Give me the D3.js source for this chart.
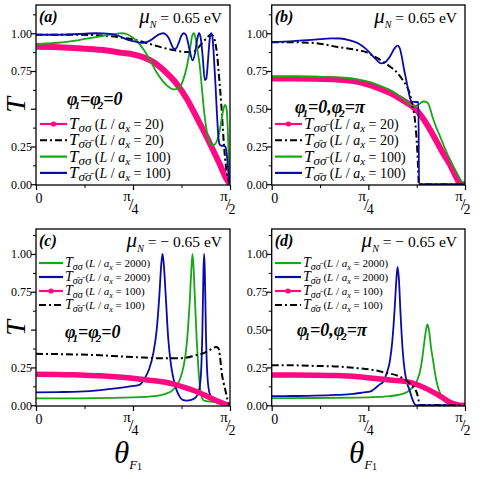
<!DOCTYPE html>
<html>
<head>
<meta charset="utf-8">
<script src="https://cdn.jsdelivr.net/npm/d3@7"></script>
<style>
  body { margin: 0; background: #fff; }
  svg { display: block; }
</style>
</head>
<body>
<div id="chart"></div>
<script>
// x values in degrees (0 .. 90 = 0 .. pi/2), y = transmission T
var xMajor = [0, 45, 90];
var xMinor = [22.5, 67.5];
var yMajor = [0, 0.25, 0.5, 0.75, 1];
var yMinor = [0.125, 0.375, 0.625, 0.875, 1.125];

// panel (a)  mu_N = 0.65 eV, phi1 = phi2 = 0
var aPink = [[0,0.91],[10,0.908],[20,0.90],[30,0.89],[40,0.87],[45,0.86],[50,0.84],[55,0.805],[60,0.745],[65,0.67],[70,0.565],[75,0.43],[80,0.29],[83,0.2],[85,0.14],[88,0.045],[90,0]];
var aBlack = [[0,0.99],[10,0.99],[20,0.99],[30,0.985],[35,0.98],[40,0.97],[45,0.96],[50,0.94],[55,0.92],[60,0.90],[65,0.885],[70,0.875],[73,0.878],[75,0.9],[77,0.935],[79,0.965],[81,0.99],[82,0.985],[83,0.95],[84,0.86],[85,0.70],[86,0.52],[87,0.30],[88,0.13],[89,0.04],[90,0]];
var aGreen = [[0,0.93],[5,0.932],[10,0.937],[15,0.945],[20,0.955],[25,0.967],[30,0.98],[35,0.993],[38,0.998],[40,1.0],[42,0.995],[45,0.97],[48,0.93],[50,0.89],[53,0.82],[56,0.74],[59,0.68],[62,0.64],[64,0.628],[66,0.635],[68,0.68],[70,0.78],[71.5,0.9],[72.5,0.985],[73.2,1.0],[74,0.97],[75,0.88],[76,0.78],[77,0.63],[78,0.48],[79,0.37],[80,0.3],[81,0.27],[82,0.26],[83,0.265],[84,0.29],[85,0.34],[86,0.42],[87,0.5],[87.8,0.525],[88.5,0.49],[89,0.35],[89.5,0.15],[90,0]];
var aBlue = [[0,0.99],[10,0.99],[20,0.995],[28,1.0],[33,0.998],[38,0.985],[42,0.96],[45,0.948],[48,0.938],[50,0.936],[52,0.945],[54,0.962],[56,0.983],[58,0.997],[59,1.0],[60,0.995],[61.5,0.97],[63,0.92],[64,0.895],[65,0.9],[66.3,0.94],[67.5,0.985],[68.5,1.0],[69.5,0.99],[70.5,0.94],[71.5,0.87],[72.7,0.82],[73.8,0.87],[74.8,0.96],[75.6,1.0],[76.4,0.97],[77.3,0.85],[78.3,0.69],[79,0.7],[79.8,0.82],[80.5,0.95],[81.2,1.0],[81.8,0.98],[82.5,0.85],[83.3,0.65],[84,0.45],[84.7,0.3],[85.3,0.26],[86,0.255],[87,0.255],[87.8,0.25],[88.5,0.2],[89,0.12],[89.5,0.04],[90,0]];

// panel (b)  mu_N = 0.65 eV, phi1 = 0, phi2 = pi
var bPink = [[0,0.70],[10,0.70],[20,0.698],[30,0.693],[35,0.688],[40,0.678],[45,0.66],[50,0.635],[55,0.605],[60,0.565],[65,0.52],[67.5,0.49],[70,0.445],[75,0.33],[80,0.2],[83,0.13],[86,0.045],[88,0],[90,0]];
var bBlack = [[0,0.94],[10,0.94],[20,0.935],[25,0.925],[30,0.91],[35,0.90],[40,0.888],[44,0.875],[48,0.845],[52,0.81],[55,0.78],[58,0.745],[61,0.69],[63,0.645],[64.5,0.59],[65.5,0.52],[66.5,0.45],[67.3,0.33],[67.8,0.22],[68.2,0.1],[68.5,0],[90,0]];
var bGreen = [[0,0.715],[10,0.715],[20,0.713],[30,0.708],[35,0.705],[40,0.695],[45,0.68],[50,0.655],[55,0.625],[58,0.6],[61,0.57],[63,0.545],[65,0.525],[66.5,0.518],[68,0.525],[69.5,0.54],[70.8,0.548],[72,0.545],[73,0.53],[74,0.49],[75,0.44],[76.5,0.38],[78,0.33],[80,0.26],[81.5,0.21],[83,0.165],[84.5,0.12],[86,0.08],[87.5,0.04],[89,0.008],[90,0]];
var bBlue = [[0,0.942],[10,0.948],[20,0.958],[28,0.966],[32,0.965],[36,0.955],[40,0.935],[44,0.895],[47,0.85],[49,0.82],[51,0.80],[53,0.81],[55,0.845],[57,0.895],[58.5,0.918],[59.5,0.905],[60.5,0.85],[61.5,0.77],[62.5,0.70],[63.5,0.63],[64.5,0.565],[65.2,0.547],[66.5,0.545],[68.3,0.544],[68.6,0],[90,0]];

// panel (c)  mu_N = -0.65 eV, phi1 = phi2 = 0
var cGreen = [[0,0.045],[20,0.046],[40,0.05],[50,0.055],[55,0.06],[60,0.075],[63,0.095],[65,0.125],[67,0.18],[68.5,0.26],[69.5,0.35],[70.5,0.5],[71.3,0.68],[72,0.88],[72.6,1.0],[73.2,0.88],[73.9,0.64],[74.6,0.42],[75.3,0.25],[76,0.13],[76.8,0.06],[78,0.03],[80,0.025],[84,0.02],[88,0.01],[90,0]];
var cBlue = [[0,0.085],[10,0.087],[20,0.09],[30,0.1],[38,0.113],[43,0.123],[48,0.135],[50.5,0.18],[52.5,0.24],[54.5,0.35],[56,0.5],[57.2,0.72],[58.1,0.93],[58.7,1.0],[59.3,0.93],[60.2,0.72],[61.3,0.45],[62.5,0.28],[63.7,0.18],[65,0.11],[66.5,0.06],[68,0.035],[70,0.03],[72,0.035],[74,0.05],[75.5,0.09],[76.5,0.2],[77.2,0.5],[77.7,0.9],[78,1.0],[78.3,0.9],[78.8,0.5],[79.5,0.2],[80.5,0.08],[82,0.04],[85,0.02],[88,0.008],[90,0]];
var cPink = [[0,0.205],[10,0.204],[20,0.2],[30,0.195],[40,0.185],[45,0.178],[50,0.17],[55,0.162],[60,0.152],[65,0.135],[70,0.113],[75,0.088],[80,0.055],[83,0.035],[86,0.017],[88,0.006],[90,0]];
var cBlack = [[0,0.34],[10,0.338],[20,0.335],[30,0.33],[40,0.322],[50,0.315],[60,0.31],[65,0.31],[70,0.315],[74,0.33],[77,0.34],[80,0.36],[82,0.377],[83.5,0.385],[84.5,0.38],[85.3,0.33],[86.1,0.22],[87,0.15],[88,0.09],[88.8,0.04],[89.5,0.01],[90,0]];

// panel (d)  mu_N = -0.65 eV, phi1 = 0, phi2 = pi
var dGreen = [[0,0.047],[20,0.048],[40,0.05],[50,0.055],[55,0.06],[60,0.072],[63,0.088],[65,0.11],[66.7,0.134],[68,0.175],[69,0.22],[70,0.3],[71,0.41],[72,0.51],[72.5,0.535],[73.2,0.5],[74.2,0.38],[75.2,0.29],[76.3,0.19],[77.4,0.12],[78.4,0.08],[79.5,0.045],[81,0.02],[83,0.005],[84.5,0],[90,0]];
var dBlue = [[0,0.06],[10,0.061],[20,0.063],[30,0.068],[38,0.075],[43,0.085],[45.7,0.09],[48,0.11],[50,0.135],[51.9,0.156],[53.5,0.21],[55,0.29],[56.2,0.43],[57.3,0.65],[58,0.82],[58.6,0.915],[59.2,0.84],[60,0.6],[61,0.36],[62,0.22],[63.2,0.14],[64.4,0.09],[65.5,0.04],[66.7,0.005],[67.5,0],[90,0]];
var dPink = [[0,0.2],[10,0.2],[20,0.199],[30,0.196],[40,0.188],[47,0.178],[55,0.167],[62.8,0.156],[67,0.14],[72,0.11],[76,0.08],[80,0.046],[83,0.02],[86,0.005],[88,0],[90,0]];
var dBlack = [[0,0.265],[10,0.264],[20,0.26],[31.8,0.255],[40,0.245],[47.3,0.233],[53,0.215],[59.5,0.19],[62.5,0.165],[65,0.134],[66.5,0.11],[67.6,0.08],[68.3,0.04],[68.8,0],[90,0]];

var PINK = "#ff0a80", GREEN = "#14a814", BLUE = "#0a0aa8", BLACK = "#000";
var SS = "σσ", BB = "σ\u0304σ\u0304", SB = "σσ\u0304", BS = "σ\u0304σ";

var W = 485, H = 479;
var svg = d3.select("#chart").append("svg").attr("width", W).attr("height", H);

var line = function(x, y) {
  return d3.line().x(function(d) { return x(d[0]); }).y(function(d) { return y(d[1]); }).curve(d3.curveMonotoneX);
};

function drawPanel(p, idx) {
  var x = d3.scaleLinear().domain([0, 90]).range([p.left, p.right]);
  var y = d3.scaleLinear().domain(p.yDom).range([p.bottom, p.top]);
  var g = svg.append("g");

  g.append("clipPath").attr("id", "clip" + idx)
    .append("rect").attr("x", p.left).attr("y", p.top)
    .attr("width", p.right - p.left).attr("height", p.bottom - p.top);

  // curves
  var cg = g.append("g").attr("clip-path", "url(#clip" + idx + ")");
  p.series.forEach(function(s) {
    cg.append("path").datum(s.data)
      .attr("d", line(x, y))
      .attr("fill", "none")
      .attr("stroke", s.color)
      .attr("stroke-width", s.width)
      .attr("stroke-dasharray", s.dash || null)
      .attr("stroke-linejoin", "round");
  });

  // frame
  g.append("rect").attr("x", p.left).attr("y", p.top)
    .attr("width", p.right - p.left).attr("height", p.bottom - p.top)
    .attr("fill", "none").attr("stroke", "#000").attr("stroke-width", 1.3);

  // y axis
  var ya = g.append("g").attr("transform", "translate(" + p.left + ",0)")
    .call(d3.axisLeft(y).tickValues(yMajor).tickSize(5).tickSizeOuter(0)
      .tickFormat(function(d) { return (p.hideHalf && d === 0.5) ? "" : d3.format(".2f")(d); }));
  ya.select(".domain").remove();
  ya.selectAll("line").attr("stroke-width", 1.2);
  ya.selectAll("text").attr("font-size", 12).attr("x", -4);
  var ym = g.append("g").attr("transform", "translate(" + p.left + ",0)")
    .call(d3.axisLeft(y).tickValues(yMinor).tickSize(3).tickFormat(""));
  ym.select(".domain").remove();
  ym.selectAll("line").attr("stroke-width", 1);

  // x axis
  var xa = g.append("g").attr("transform", "translate(0," + p.bottom + ")")
    .call(d3.axisBottom(x).tickValues(xMajor).tickSize(5).tickSizeOuter(0).tickFormat(""));
  xa.select(".domain").remove();
  xa.selectAll("line").attr("stroke-width", 1.2);
  var xm = g.append("g").attr("transform", "translate(0," + p.bottom + ")")
    .call(d3.axisBottom(x).tickValues(xMinor).tickSize(3).tickFormat(""));
  xm.select(".domain").remove();
  xm.selectAll("line").attr("stroke-width", 1);

  // x tick labels: 0, pi/4, pi/2
  var b = p.bottom;
  g.append("text").attr("x", x(0) + 3).attr("y", b + 18).attr("text-anchor", "middle")
    .attr("font-size", 14).text("0");
  [[45, "4"], [90, "2"]].forEach(function(t) {
    var cx = x(t[0]);
    g.append("text").attr("x", cx - 6).attr("y", b + 16).attr("text-anchor", "middle")
      .attr("font-size", 15).text("π");
    g.append("text").attr("x", cx - 2).attr("y", b + 25).attr("text-anchor", "middle")
      .attr("font-size", 17).text("/");
    g.append("text").attr("x", cx + 2).attr("y", b + 29).attr("text-anchor", "middle")
      .attr("font-size", 14).text(t[1]);
  });

  // panel letter and mu_N
  g.append("text").attr("x", p.left + 3).attr("y", p.top + 17)
    .attr("font-size", 16).attr("font-weight", "bold").attr("font-style", "italic")
    .text("(" + p.letter + ")");
  var mu = g.append("text").attr("x", p.right - 8).attr("y", p.top + 18).attr("text-anchor", "end");
  mu.append("tspan").attr("font-size", 21).attr("font-style", "italic").text("μ");
  mu.append("tspan").attr("font-size", 10).attr("font-style", "italic").attr("dy", 5).text("N");
  mu.append("tspan").attr("font-size", 15.5).attr("dy", -5).text(p.mu);

  // phi label, subscripts tucked under the phi
  var ph = g.append("text").attr("x", p.phi.x).attr("y", p.phi.y)
    .attr("font-weight", "bold").attr("font-style", "italic").attr("font-size", 18);
  ph.append("tspan").text("φ");
  ph.append("tspan").attr("font-size", 11).attr("dx", -3).attr("dy", 4).text("1");
  ph.append("tspan").attr("dy", -4).text(p.phi.mid);
  ph.append("tspan").attr("font-size", 11).attr("dx", -3).attr("dy", 4).text("2");
  ph.append("tspan").attr("dy", -4).text(p.phi.end);

  // legend
  var L = p.legend;
  p.series.forEach(function(s, i) {
    var cy = L.y + i * L.dy;
    g.append("line").attr("x1", L.x).attr("x2", L.x + L.len).attr("y1", cy).attr("y2", cy)
      .attr("stroke", s.color).attr("stroke-width", s.dash ? 2 : 2.2)
      .attr("stroke-dasharray", s.dash || null);
    if (s.marker) {
      g.append("circle").attr("cx", L.x + L.len / 2).attr("cy", cy).attr("r", 2.6).attr("fill", s.color);
    }
    var t = g.append("text").attr("x", L.x + L.len + 2).attr("y", cy + L.fs * 0.35)
      .attr("xml:space", "preserve");
    t.append("tspan").attr("font-style", "italic").attr("font-size", L.fs + 3).text("T");
    t.append("tspan").attr("font-style", "italic").attr("font-size", L.fs - 1).attr("dy", 3).text(s.sub);
    t.append("tspan").attr("font-size", L.fs).attr("dy", -3).text(" (");
    t.append("tspan").attr("font-style", "italic").attr("font-size", L.fs).text("L");
    t.append("tspan").attr("font-size", L.fs).text(" / ");
    t.append("tspan").attr("font-style", "italic").attr("font-size", L.fs).text("a");
    t.append("tspan").attr("font-style", "italic").attr("font-size", L.fs - 3).attr("dy", 3).text("x");
    t.append("tspan").attr("font-size", L.fs).attr("dy", -3).text(" = " + s.L + ")");
  });
}

var topDom = [-0.005, 1.187], botDom = [-0.005, 1.165];
var dashDot = "7,3,2,3";

var panels = [
  { left: 36, right: 230, top: 5, bottom: 185, yDom: topDom, letter: "a", mu: " = 0.65 eV", hideHalf: true,
    phi: { x: 67, y: 105, mid: "=φ", end: "=0" },
    legend: { x: 40, y: 124, dy: 16.3, len: 27, fs: 14 },
    series: [
      { data: aPink, color: PINK, width: 6, marker: true, sub: SS, L: "20" },
      { data: aBlack, color: BLACK, width: 2, dash: dashDot, sub: BB, L: "20" },
      { data: aGreen, color: GREEN, width: 1.8, sub: SS, L: "100" },
      { data: aBlue, color: BLUE, width: 1.8, sub: BB, L: "100" } ] },
  { left: 271.7, right: 465, top: 5, bottom: 185, yDom: topDom, letter: "b", mu: " = 0.65 eV", hideHalf: false,
    phi: { x: 295, y: 113, mid: "=0,φ", end: "=π" },
    legend: { x: 275, y: 124, dy: 16.3, len: 27, fs: 14 },
    series: [
      { data: bPink, color: PINK, width: 6, marker: true, sub: SB, L: "20" },
      { data: bBlack, color: BLACK, width: 2, dash: dashDot, sub: BS, L: "20" },
      { data: bGreen, color: GREEN, width: 1.8, sub: SB, L: "100" },
      { data: bBlue, color: BLUE, width: 1.8, sub: BS, L: "100" } ] },
  { left: 36, right: 230, top: 229, bottom: 406, yDom: botDom, letter: "c", mu: " = − 0.65 eV", hideHalf: true,
    phi: { x: 65, y: 338, mid: "=φ", end: "=0" },
    legend: { x: 39, y: 263, dy: 14, len: 24, fs: 11 },
    series: [
      { data: cGreen, color: GREEN, width: 1.8, sub: SS, L: "2000" },
      { data: cBlue, color: BLUE, width: 1.8, sub: BB, L: "2000" },
      { data: cPink, color: PINK, width: 5.5, marker: true, sub: SS, L: "100" },
      { data: cBlack, color: BLACK, width: 2, dash: dashDot, sub: BB, L: "100" } ] },
  { left: 271.7, right: 465, top: 229, bottom: 406, yDom: botDom, letter: "d", mu: " = − 0.65 eV", hideHalf: false,
    phi: { x: 297, y: 336, mid: "=0,φ", end: "=π" },
    legend: { x: 275, y: 263, dy: 14, len: 26, fs: 11 },
    series: [
      { data: dGreen, color: GREEN, width: 1.8, sub: SB, L: "2000" },
      { data: dBlue, color: BLUE, width: 1.8, sub: BS, L: "2000" },
      { data: dPink, color: PINK, width: 5.5, marker: true, sub: SB, L: "100" },
      { data: dBlack, color: BLACK, width: 2, dash: dashDot, sub: BS, L: "100" } ] }
];

panels.forEach(drawPanel);

// y titles (T, rotated) and x titles (theta_F1)
[105, 328].forEach(function(cy) {
  svg.append("text").attr("transform", "translate(25," + cy + ") rotate(-90)")
    .attr("text-anchor", "middle").attr("font-size", 28).attr("font-style", "italic").text("T");
});
[128, 363].forEach(function(cx) {
  var t = svg.append("text").attr("x", cx).attr("y", 463).attr("text-anchor", "middle");
  t.append("tspan").attr("font-size", 31).attr("font-style", "italic").text("θ");
  t.append("tspan").attr("font-size", 13).attr("font-style", "italic").attr("dy", 6).text("F");
  t.append("tspan").attr("font-size", 10).attr("dy", 1).text("1");
});

// serif face for every label (set inline so it beats the axis defaults)
svg.selectAll("text").style("font-family", "'Liberation Serif', serif").style("fill", "#000");
</script>
</body>
</html>
